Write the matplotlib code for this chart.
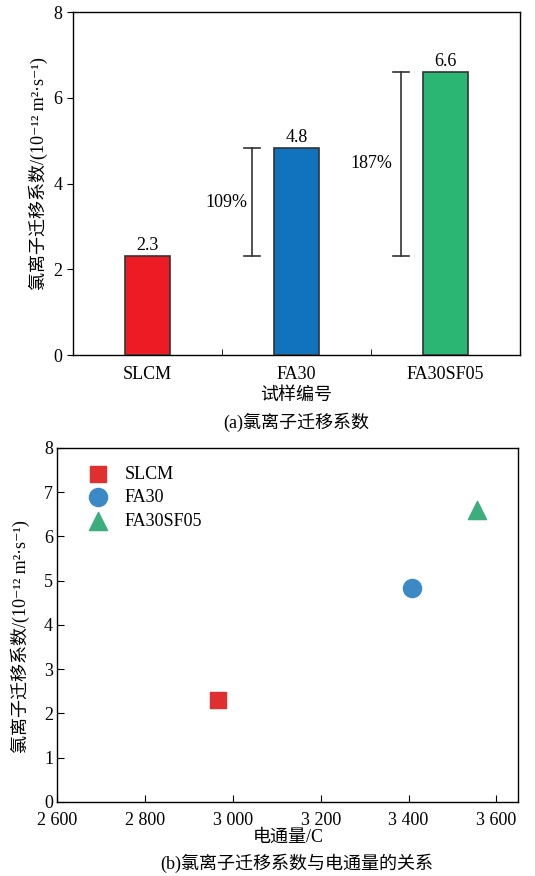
import matplotlib
matplotlib.use('Agg')
import matplotlib.pyplot as plt
from matplotlib.ticker import FuncFormatter

plt.rcParams['font.family'] = ['Liberation Serif', 'DejaVu Serif', 'Noto Sans CJK SC']
plt.rcParams['axes.unicode_minus'] = False

# 数据 ~~~~~~~~~~~~~~~~~~~~~~~~~~~~~~~~~~~~~~~~~~~~~~~~~~~~~~~~~~~~~~~~
samples = ['SLCM', 'FA30', 'FA30SF05']
coef = [2.3, 4.83, 6.6]            # 氯离子迁移系数
coef_labels = ['2.3', '4.8', '6.6']
increase = ['109%', '187%']         # 相对 SLCM 的增幅
flux = [2965, 3407, 3555]           # 电通量/C
bar_colors = ['#ed1c24', '#1172bd', '#2bb673']
pt_colors = ['#df2f2f', '#3b8ac6', '#3cad7c']
pt_markers = ['s', 'o', '^']

ylab = '氯离子迁移系数/(10⁻¹² m²·s⁻¹)'
fs = 13

fig = plt.figure(figsize=(5.35, 8.76), dpi=100)

# (a) 柱状图 ~~~~~~~~~~~~~~~~~~~~~~~~~~~~~~~~~~~~~~~~~~~~~~~~~~~~~~~~~~~
ax1 = fig.add_axes([0.1364, 0.5947, 0.8356, 0.3916])
x = list(range(len(samples)))
ax1.bar(x, coef, width=0.3, color=bar_colors, edgecolor='#333333', linewidth=1.2, zorder=3)
for xi, v, s in zip(x, coef, coef_labels):
    ax1.text(xi, v + 0.05, s, ha='center', va='bottom', fontsize=fs)

# 增幅括号
for i in range(1, len(samples)):
    xb = i - 0.3
    ax1.plot([xb, xb], [coef[0], coef[i]], color='#333333', lw=1.2)
    for yy in (coef[0], coef[i]):
        ax1.plot([xb - 0.055, xb + 0.055], [yy, yy], color='#333333', lw=1.2)
ax1.text(0.53, 3.55, increase[0], ha='center', va='center', fontsize=fs)
ax1.text(1.5, 4.47, increase[1], ha='center', va='center', fontsize=fs)

ax1.set_xlim(-0.5, 2.5)
ax1.set_ylim(0, 8)
ax1.set_yticks([0, 2, 4, 6, 8])
ax1.set_xticks(x)
ax1.set_xticklabels(samples)
ax1.set_xticks([0.5, 1.5], minor=True)
ax1.tick_params(axis='x', which='major', length=0, labelsize=fs, pad=8)
ax1.tick_params(axis='x', which='minor', direction='in', length=4)
ax1.tick_params(axis='y', direction='out', length=4, labelsize=fs)
ax1.set_ylabel(ylab, fontsize=fs)
ax1.yaxis.set_label_coords(-0.056, 0.53)
for sp in ax1.spines.values():
    sp.set_linewidth(1.0)
fig.text(0.554, 0.549, '试样编号', ha='center', va='center', fontsize=fs)
fig.text(0.554, 0.518, '(a)氯离子迁移系数', ha='center', va='center', fontsize=fs)

# (b) 散点图 ~~~~~~~~~~~~~~~~~~~~~~~~~~~~~~~~~~~~~~~~~~~~~~~~~~~~~~~~~~~
ax2 = fig.add_axes([0.107, 0.0845, 0.862, 0.4041])
for fx, v, c, m, s in zip(flux, coef, pt_colors, pt_markers, samples):
    ax2.scatter(fx, v, s=170 if m != 's' else 140, color=c, marker=m, label=s, zorder=3)
ax2.set_xlim(2600, 3650)
ax2.set_ylim(0, 8)
ax2.set_xticks([2600, 2800, 3000, 3200, 3400, 3600])
ax2.xaxis.set_major_formatter(FuncFormatter(lambda v, p: '{:,}'.format(int(v)).replace(',', ' ')))
ax2.set_yticks(range(0, 9))
ax2.tick_params(direction='in', length=5, labelsize=fs)
ax2.tick_params(axis='x', pad=7)
ax2.tick_params(axis='y', pad=3)
ax2.set_ylabel(ylab, fontsize=fs)
ax2.yaxis.set_label_coords(-0.058, 0.466)
ax2.set_xlabel('电通量/C', fontsize=fs, labelpad=0)
for sp in ax2.spines.values():
    sp.set_linewidth(1.0)
ax2.legend(loc='upper left', bbox_to_anchor=(0.025, 0.98), frameon=False, fontsize=fs,
           handletextpad=0.5, labelspacing=0.35, borderaxespad=0.2)
fig.text(0.554, 0.015, '(b)氯离子迁移系数与电通量的关系', ha='center', va='center', fontsize=fs)

fig.savefig('out.png', dpi=100)
